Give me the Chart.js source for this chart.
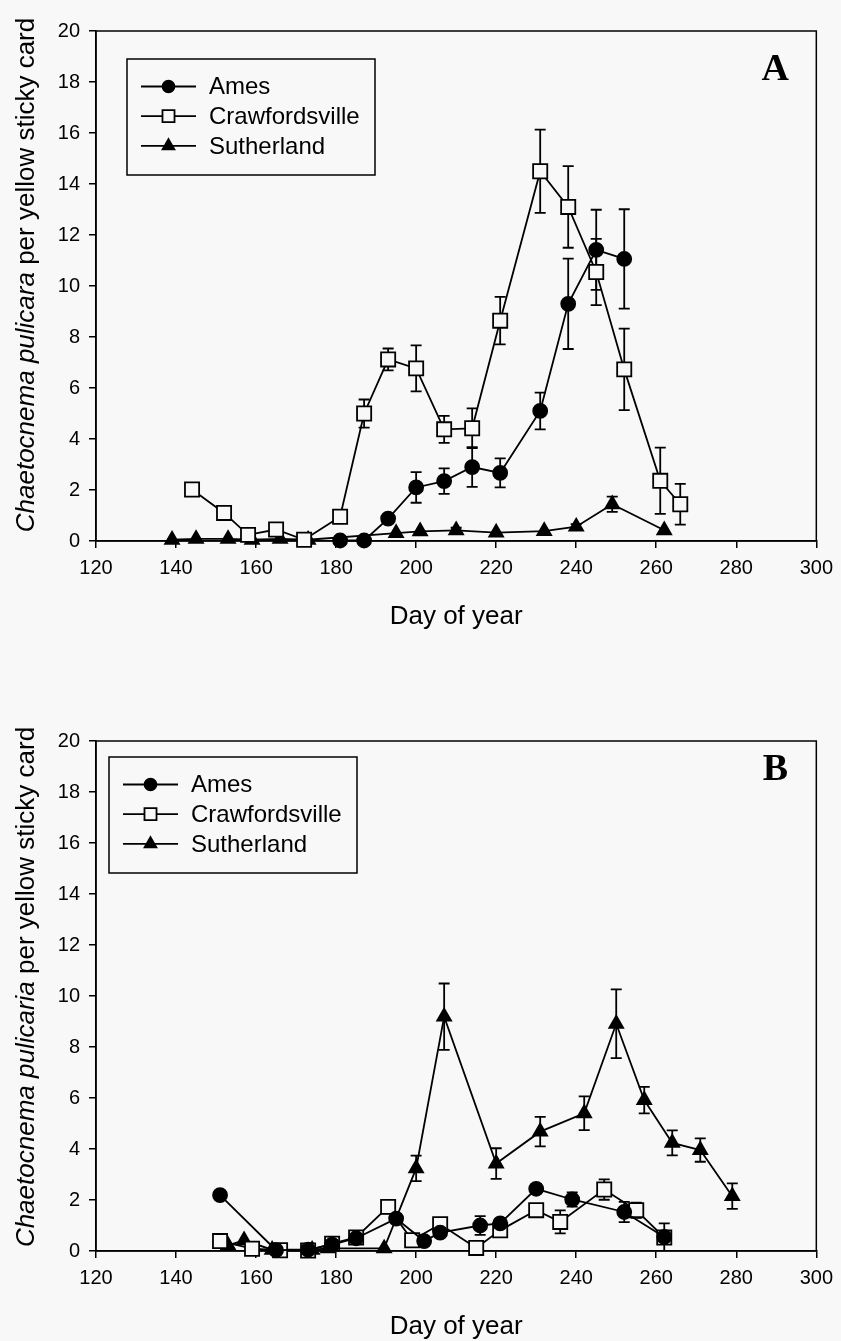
<!DOCTYPE html>
<html>
<head>
<meta charset="utf-8">
<script src="https://cdn.jsdelivr.net/npm/chart.js@4.4.0/dist/chart.umd.min.js"></script>
<style>
  body { margin: 0; background: #f8f8f8; }
  .panel { position: absolute; left: 0; }
</style>
</head>
<body>
<canvas id="chartA" class="panel" style="top:0px" width="841" height="660"></canvas>
<canvas id="chartB" class="panel" style="top:710px" width="841" height="631"></canvas>
<script>
var siteNames = ["Ames", "Crawfordsville", "Sutherland"];
var xTickValues = [120, 140, 160, 180, 200, 220, 240, 260, 280, 300];
var yTickValues = [0, 2, 4, 6, 8, 10, 12, 14, 16, 18, 20];

// panel A
var aAmesDay = [181, 187, 193, 200, 207, 214, 221, 231, 238, 245, 252];
var aAmesVal = [0.02, 0.02, 0.88, 2.1, 2.35, 2.9, 2.67, 5.1, 9.3, 11.42, 11.06];
var aAmesSe  = [0, 0, 0, 0.6, 0.5, 0.78, 0.57, 0.72, 1.77, 1.57, 1.95];

var aCrawDay = [144, 152, 158, 165, 172, 181, 187, 193, 200, 207, 214, 221, 231, 238, 245, 252, 261, 266];
var aCrawVal = [2.02, 1.1, 0.24, 0.45, 0.05, 0.95, 5.0, 7.12, 6.77, 4.38, 4.42, 8.64, 14.5, 13.1, 10.55, 6.73, 2.36, 1.44];
var aCrawSe  = [0, 0, 0, 0, 0, 0, 0.55, 0.43, 0.9, 0.53, 0.78, 0.93, 1.63, 1.6, 1.3, 1.6, 1.3, 0.8];

var aSuthDay = [139, 145, 153, 159, 166, 173, 195, 201, 210, 220, 232, 240, 249, 262];
var aSuthVal = [0.05, 0.08, 0.08, 0.05, 0.08, 0.05, 0.31, 0.38, 0.42, 0.33, 0.39, 0.56, 1.44, 0.42];
var aSuthSe  = [0, 0, 0, 0, 0, 0, 0, 0, 0.1, 0, 0, 0.1, 0.3, 0];

// panel B
var bAmesDay = [151, 165, 173, 179, 185, 195, 202, 206, 216, 221, 230, 239, 252, 262];
var bAmesVal = [2.19, 0.03, 0.05, 0.25, 0.5, 1.27, 0.39, 0.72, 1.0, 1.08, 2.44, 2.02, 1.53, 0.55];
var bAmesSe  = [0, 0, 0, 0, 0, 0, 0, 0, 0.37, 0, 0.18, 0.28, 0.4, 0];

var bCrawDay = [151, 159, 166, 173, 179, 185, 193, 199, 206, 215, 221, 230, 236, 247, 255, 262];
var bCrawVal = [0.39, 0.09, 0.03, 0.02, 0.29, 0.53, 1.73, 0.42, 1.05, 0.12, 0.81, 1.6, 1.14, 2.41, 1.6, 0.53];
var bCrawSe  = [0, 0, 0, 0, 0, 0, 0.25, 0, 0, 0, 0, 0, 0.45, 0.4, 0.3, 0.55];

var bSuthDay = [153, 157, 164, 174, 178, 192, 200, 207, 220, 231, 242, 250, 257, 264, 271, 279];
var bSuthVal = [0.22, 0.42, 0.05, 0.05, 0.1, 0.1, 3.24, 9.19, 3.43, 4.68, 5.4, 8.91, 5.92, 4.24, 3.96, 2.15];
var bSuthSe  = [0, 0, 0, 0, 0, 0, 0.5, 1.3, 0.6, 0.58, 0.66, 1.35, 0.52, 0.49, 0.46, 0.5];

var BG = '#f8f8f8';
var SANS = '"Liberation Sans", Arial, sans-serif';

function series(label, days, vals, se, style, radius, fill) {
  return {
    label: label,
    data: days.map(function (d, i) { return { x: d, y: vals[i] }; }),
    errors: se,
    showLine: true,
    borderColor: '#000',
    borderWidth: 1.8,
    pointStyle: style,
    pointRadius: radius,
    pointHoverRadius: radius,
    pointBackgroundColor: fill,
    pointBorderColor: '#000',
    pointBorderWidth: 1.8,
    clip: false
  };
}

// error bars drawn under the markers
var errorBars = {
  id: 'errorBars',
  beforeDatasetsDraw: function (chart) {
    var ctx = chart.ctx, xs = chart.scales.x, ys = chart.scales.y;
    ctx.save();
    ctx.strokeStyle = '#000';
    ctx.lineWidth = 1.8;
    chart.data.datasets.forEach(function (ds) {
      ds.data.forEach(function (p, i) {
        var e = ds.errors[i];
        if (!e) return;
        var x = xs.getPixelForValue(p.x);
        var t = ys.getPixelForValue(p.y + e);
        var b = ys.getPixelForValue(Math.max(0, p.y - e));
        ctx.beginPath();
        ctx.moveTo(x, t); ctx.lineTo(x, b);
        ctx.moveTo(x - 5.5, t); ctx.lineTo(x + 5.5, t);
        if (p.y - e > 0) { ctx.moveTo(x - 5.5, b); ctx.lineTo(x + 5.5, b); }
        ctx.stroke();
      });
    });
    ctx.restore();
  }
};

// frame, titles, legend box, panel letter
var decor = {
  id: 'decor',
  beforeDatasetsDraw: function (chart) {
    var a = chart.chartArea, ctx = chart.ctx;
    ctx.save();
    ctx.strokeStyle = '#000';
    ctx.lineWidth = 1.5;
    ctx.strokeRect(a.left, a.top, a.right - a.left, a.bottom - a.top);
    ctx.restore();
  },
  afterDraw: function (chart, args, o) {
    var a = chart.chartArea, ctx = chart.ctx;
    ctx.save();
    ctx.fillStyle = '#000';

    // x title
    ctx.font = '26px ' + SANS;
    ctx.textAlign = 'center';
    ctx.textBaseline = 'middle';
    ctx.fillText('Day of year', (a.left + a.right) / 2, a.bottom + 76);

    // y title, italic species name
    var it = 'italic 26px ' + SANS, up = '26px ' + SANS;
    var rest = ' per yellow sticky card';
    ctx.font = it; var w1 = ctx.measureText(o.species).width;
    ctx.font = up; var w2 = ctx.measureText(rest).width;
    ctx.translate(34, a.top + o.titleMid);
    ctx.rotate(-Math.PI / 2);
    ctx.textAlign = 'left';
    ctx.textBaseline = 'alphabetic';
    ctx.font = it; ctx.fillText(o.species, -(w1 + w2) / 2, 0);
    ctx.font = up; ctx.fillText(rest, -(w1 + w2) / 2 + w1, 0);
    ctx.setTransform(1, 0, 0, 1, 0, 0);

    // panel letter
    ctx.font = 'bold 38px "Liberation Serif", "Times New Roman", serif';
    ctx.textAlign = 'center';
    ctx.fillText(o.letter, a.right - 41, a.top + o.letterY);

    // legend box
    var bx = a.left + o.boxX, by = a.top + o.boxY;
    ctx.fillStyle = BG;
    ctx.fillRect(bx, by, 248, 116);
    ctx.strokeStyle = '#000';
    ctx.lineWidth = 1.5;
    ctx.strokeRect(bx, by, 248, 116);
    ctx.font = '24px ' + SANS;
    ctx.textAlign = 'left';
    ctx.textBaseline = 'middle';
    chart.data.datasets.forEach(function (ds, i) {
      var y = by + 27.5 + i * 29.7;
      ctx.strokeStyle = '#000';
      ctx.lineWidth = 1.8;
      ctx.beginPath();
      ctx.moveTo(bx + 14, y); ctx.lineTo(bx + 69, y);
      ctx.stroke();
      ctx.fillStyle = ds.pointBackgroundColor;
      Chart.helpers.drawPoint(ctx, {
        pointStyle: ds.pointStyle, radius: ds.pointRadius * 0.85, rotation: 0, borderWidth: 1.5
      }, bx + 41.5, y);
      ctx.fillStyle = '#000';
      ctx.fillText(ds.label, bx + 82, y + 1);
    });
    ctx.restore();
  }
};

function makeChart(id, canvasHeight, sets, opts) {
  return new Chart(document.getElementById(id), {
    type: 'scatter',
    data: { datasets: sets },
    plugins: [errorBars, decor],
    options: {
      responsive: false,
      animation: false,
      devicePixelRatio: 1,
      layout: { padding: { top: 31, right: 21, left: 0, bottom: 0 } },
      plugins: { legend: { display: false }, tooltip: { enabled: false }, decor: opts },
      scales: {
        x: {
          type: 'linear', min: 120, max: 300,
          afterBuildTicks: function (s) { s.ticks = xTickValues.map(function (v) { return { value: v }; }); },
          afterFit: function (s) { s.height = canvasHeight - 541; },
          grid: { drawOnChartArea: false, drawTicks: true, tickLength: 7, color: '#000', lineWidth: 1.5 },
          border: { display: true, color: '#000', width: 1.5 },
          ticks: { color: '#000', font: { family: SANS, size: 20 }, padding: 8, maxRotation: 0 }
        },
        y: {
          type: 'linear', min: 0, max: 20,
          afterBuildTicks: function (s) { s.ticks = yTickValues.map(function (v) { return { value: v }; }); },
          afterFit: function (s) { s.width = 96; },
          grid: { drawOnChartArea: false, drawTicks: true, tickLength: 7, color: '#000', lineWidth: 1.5 },
          border: { display: true, color: '#000', width: 1.5 },
          ticks: { color: '#000', font: { family: SANS, size: 20 }, padding: 9 }
        }
      }
    }
  });
}

makeChart('chartA', 660, [
  series(siteNames[0], aAmesDay, aAmesVal, aAmesSe, 'circle', 7, '#000'),
  series(siteNames[1], aCrawDay, aCrawVal, aCrawSe, 'rect', 10, BG),
  series(siteNames[2], aSuthDay, aSuthVal, aSuthSe, 'triangle', 8, '#000')
], { species: 'Chaetocnema pulicara', letter: 'A', letterY: 49, boxX: 31, boxY: 28, titleMid: 244 });

makeChart('chartB', 631, [
  series(siteNames[0], bAmesDay, bAmesVal, bAmesSe, 'circle', 7, '#000'),
  series(siteNames[1], bCrawDay, bCrawVal, bCrawSe, 'rect', 10, BG),
  series(siteNames[2], bSuthDay, bSuthVal, bSuthSe, 'triangle', 8, '#000')
], { species: 'Chaetocnema pulicaria', letter: 'B', letterY: 39, boxX: 13, boxY: 16, titleMid: 246 });
</script>
</body>
</html>
